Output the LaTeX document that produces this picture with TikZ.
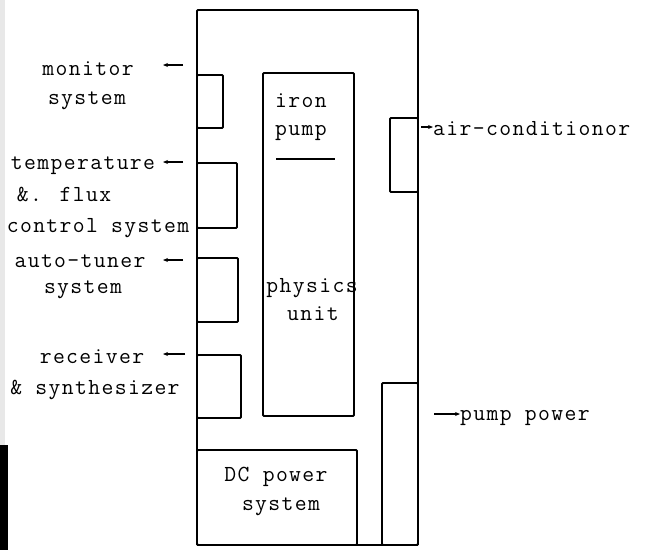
\documentclass[tikz,border=0pt]{standalone}
\usepackage{fontspec}
\usetikzlibrary{arrows.meta}
\newfontfamily\twfam{Latin Modern Mono}[LetterSpace=6]
\newcommand{\twfont}{\fontsize{23}{28}\selectfont\twfam}
\begin{document}
\begin{tikzpicture}[x=1pt,y=-1pt,
  box/.style={draw,line width=1.8pt,inner sep=0pt,outer sep=0pt,anchor=north west,rounded corners=1pt},
  lbl/.style={font=\twfont,inner sep=0pt,anchor=center},
  arr/.style={line width=1.1pt,-{Stealth[length=5pt,width=4pt]}}]
\useasboundingbox (0,0) rectangle (650,550);
\fill[gray!18] (0,0) rectangle (5,445);
\fill[black] (0,445) rectangle (8,550);
% boxes
\node[box,minimum width=221pt,minimum height=535pt] (outer) at (197,10) {};
\node[box,minimum width=91pt,minimum height=343pt] (phys) at (263,73) {};
\node[box,minimum width=26pt,minimum height=53pt] (mon) at (197,75) {};
\node[box,minimum width=40pt,minimum height=65pt] (temp) at (197,163) {};
\node[box,minimum width=41pt,minimum height=64pt] (tune) at (197,258) {};
\node[box,minimum width=44pt,minimum height=63pt] (recv) at (197,355) {};
\node[box,minimum width=160pt,minimum height=95pt] (dc) at (197,450) {};
\node[box,minimum width=36pt,minimum height=162pt] (pp) at (382,383) {};
\node[box,minimum width=28pt,minimum height=74pt] (ac) at (390,118) {};
% inner texts
\node[lbl] (t1) at (301,101) {iron};
\node[lbl] (t2) at (301,133) {pump};
\coordinate (s1) at (276,159);
\coordinate (s2) at (335,159);
\draw[line width=1.5pt] (s1) -- (s2);
\node[lbl] (t3) at (312,288) {physics};
\node[lbl] (t4) at (313,314) {unit};
\node[lbl] (t5) at (276,477) {DC power};
\node[lbl] (t6) at (281,507) {system};
% left labels
\node[lbl] (l1) at (88,69) {monitor};
\node[lbl] (l2) at (87,101) {system};
\node[lbl] (l3) at (83,166) {temperature};
\node[lbl] (l4) at (64,194) {\&. flux};
\node[lbl] (l5) at (98,228) {control system};
\node[lbl] (l6) at (80,261) {auto-tuner};
\node[lbl] (l7) at (83,290) {system};
\node[lbl] (l8) at (92,357) {receiver};
\node[lbl] (l9) at (95,390) {\& synthesizer};
% right labels
\node[lbl,anchor=west] (r1) at (433,129) {air-conditionor};
\node[lbl,anchor=west] (r2) at (460,418) {pump power};
% arrows
\coordinate (a1s) at (183,65); \coordinate (a1e) at (163,65);
\coordinate (a2s) at (183,162); \coordinate (a2e) at (163,162);
\coordinate (a3s) at (183,260); \coordinate (a3e) at (163,260);
\coordinate (a4s) at (185,354); \coordinate (a4e) at (163,354);
\draw[arr] (a1s) -- (a1e);
\draw[arr] (a2s) -- (a2e);
\draw[arr] (a3s) -- (a3e);
\draw[arr] (a4s) -- (a4e);
\coordinate (b1s) at (421,127);
\coordinate (b2s) at (434,414);
\draw[arr] (b1s) -- (r1.west |- b1s);
\draw[arr] (b2s) -- (r2.west |- b2s);
\end{tikzpicture}
\end{document}
